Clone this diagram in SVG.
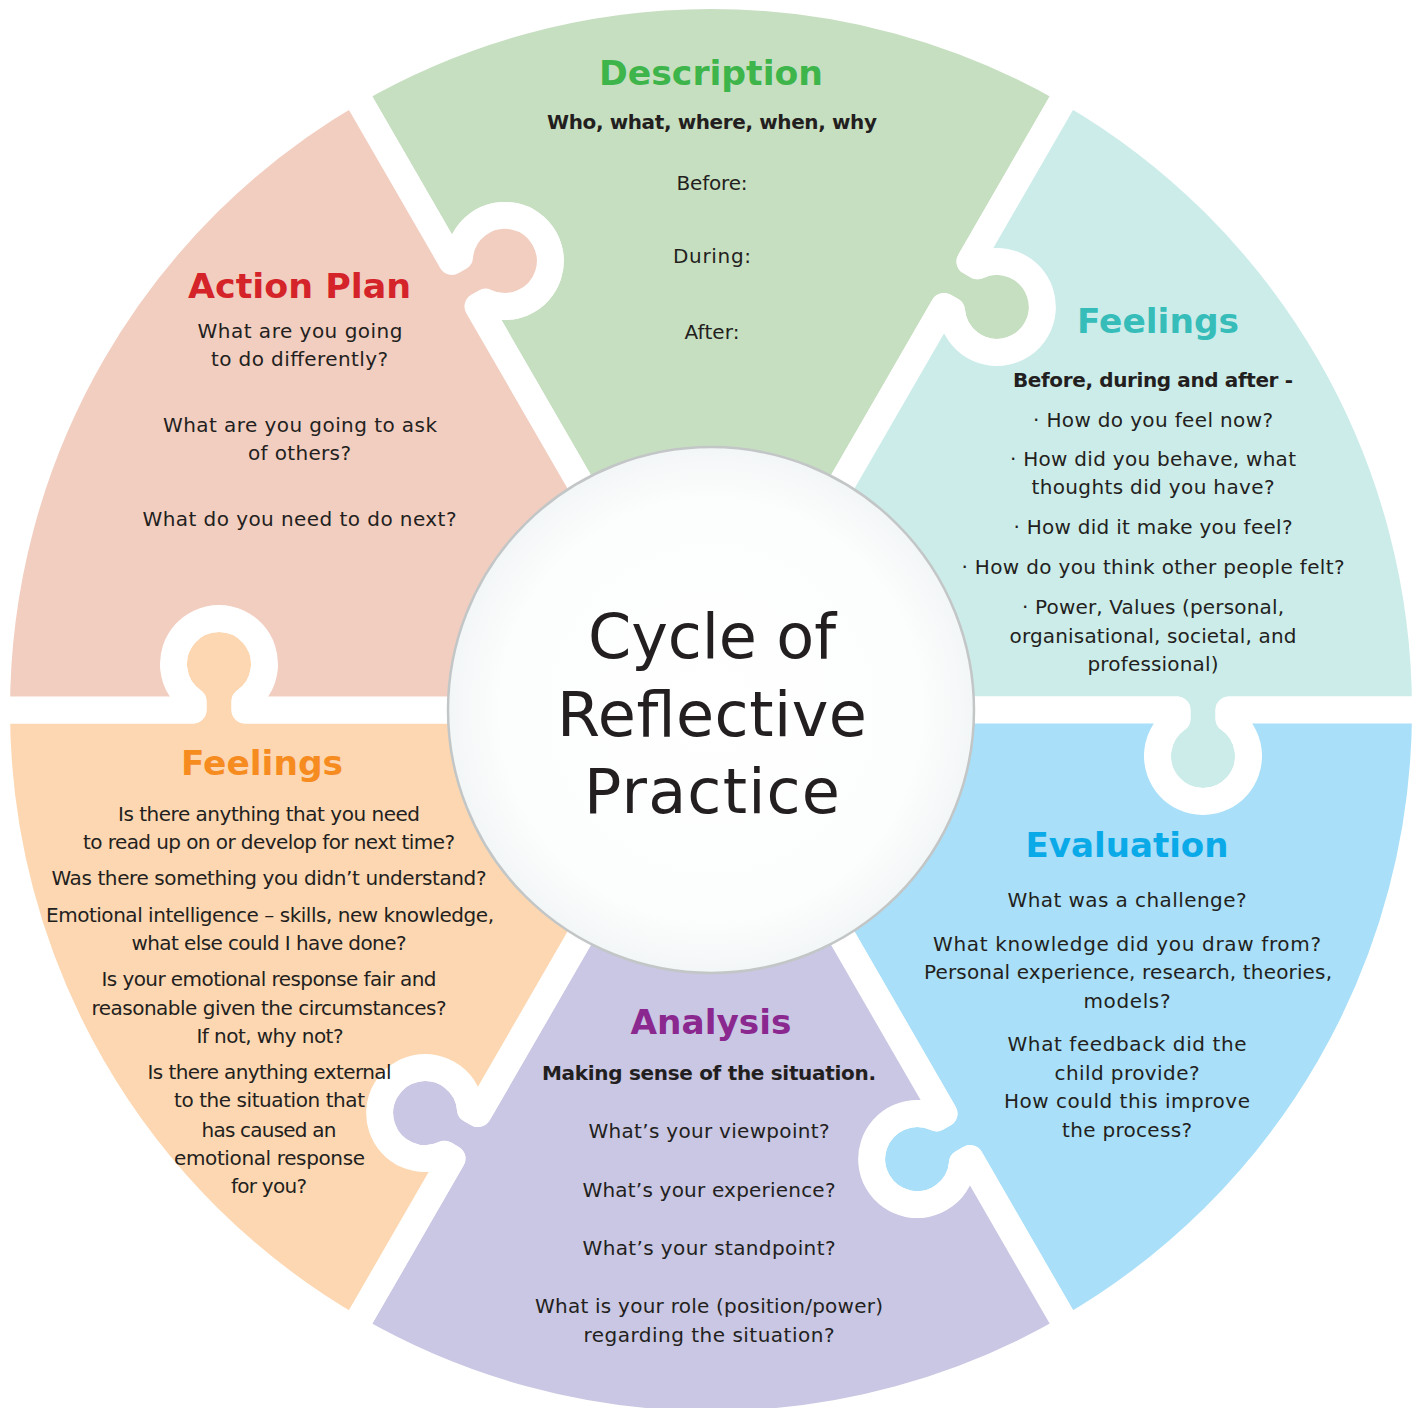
<svg xmlns="http://www.w3.org/2000/svg" width="1421" height="1408" viewBox="0 0 1421 1408">
  <defs>
    <style>
      .txt{font-family:"DejaVu Sans",sans-serif;font-size:20px;fill:#231f20;text-anchor:middle}
      .sub{font-family:"DejaVu Sans",sans-serif;font-size:20px;font-weight:bold;fill:#231f20;text-anchor:middle}
      .ttl{font-family:"DejaVu Sans",sans-serif;font-size:34px;font-weight:bold;text-anchor:middle}
      .hub{font-family:"DejaVu Sans",sans-serif;font-size:62px;fill:#231f20;text-anchor:middle}
      .piece{stroke:#ffffff;stroke-width:27;stroke-linejoin:round}
    </style>
    <!-- one 60° puzzle piece, centred on the origin: socket on the 0° edge, tab on the 60° edge.
         The white 27px stroke opens the gap between neighbouring pieces. -->
    <path id="piece" d="M0 0 L466 0 L466 8.66 A45.5 45.5 0 1 0 518 8.66 L518 0 L714.5 0 A714.5 714.5 0 0 1 357.25 618.78 L259 448.6 L251.5 452.93 A45.5 45.5 0 1 1 225.5 407.9 L233 403.57 Z"/>
    <radialGradient id="hubFill" cx="50%" cy="50%" r="50%">
      <stop offset="0" stop-color="#ffffff"/>
      <stop offset="0.8" stop-color="#fcfdfd"/>
      <stop offset="1" stop-color="#f3f6f7"/>
    </radialGradient>
  </defs>

  <rect width="1421" height="1408" fill="#ffffff"/>

  <g id="description">
    <use href="#piece" class="piece" fill="#c7dfc1" transform="translate(711 710) rotate(240)"/>
    <text class="ttl" x="711" y="85" fill="#3db54a" textLength="224" lengthAdjust="spacingAndGlyphs">Description</text>
    <text class="sub" x="712" y="129" textLength="330">Who, what, where, when, why</text>
    <text class="txt" x="712" y="190" textLength="71">Before:</text>
    <text class="txt" x="712" y="263" textLength="78">During:</text>
    <text class="txt" x="712" y="339" textLength="55">After:</text>
  </g>

  <g id="feelings-now">
    <use href="#piece" class="piece" fill="#ccecea" transform="translate(711 710) rotate(300)"/>
    <text class="ttl" x="1158" y="333" fill="#36bdb9" textLength="162" lengthAdjust="spacingAndGlyphs">Feelings</text>
    <text class="sub" x="1153" y="387" textLength="280">Before, during and after -</text>
    <text class="txt" x="1153" y="427" textLength="240">· How do you feel now?</text>
    <text class="txt" x="1153" y="466" textLength="286">· How did you behave, what</text>
    <text class="txt" x="1153" y="494" textLength="243">thoughts did you have?</text>
    <text class="txt" x="1153" y="534" textLength="279">· How did it make you feel?</text>
    <text class="txt" x="1153" y="574" textLength="383">· How do you think other people felt?</text>
    <text class="txt" x="1153" y="614" textLength="262">· Power, Values (personal,</text>
    <text class="txt" x="1153" y="643" textLength="287">organisational, societal, and</text>
    <text class="txt" x="1153" y="671" textLength="131">professional)</text>
  </g>

  <g id="evaluation">
    <use href="#piece" class="piece" fill="#a9dff8" transform="translate(711 710) rotate(0)"/>
    <text class="ttl" x="1127" y="857" fill="#0aa9e8" textLength="203" lengthAdjust="spacingAndGlyphs">Evaluation</text>
    <text class="txt" x="1127" y="907" textLength="239">What was a challenge?</text>
    <text class="txt" x="1127" y="951" textLength="388">What knowledge did you draw from?</text>
    <text class="txt" x="1128" y="979" textLength="408">Personal experience, research, theories,</text>
    <text class="txt" x="1127" y="1008" textLength="87">models?</text>
    <text class="txt" x="1127" y="1051" textLength="239">What feedback did the</text>
    <text class="txt" x="1127" y="1080" textLength="145">child provide?</text>
    <text class="txt" x="1127" y="1108" textLength="246">How could this improve</text>
    <text class="txt" x="1127" y="1137" textLength="130">the process?</text>
  </g>

  <g id="analysis">
    <use href="#piece" class="piece" fill="#c9c7e3" transform="translate(711 710) rotate(60)"/>
    <text class="ttl" x="711" y="1034" fill="#8a288f" textLength="161" lengthAdjust="spacingAndGlyphs">Analysis</text>
    <text class="sub" x="709" y="1080" textLength="334">Making sense of the situation.</text>
    <text class="txt" x="709" y="1138" textLength="241">What’s your viewpoint?</text>
    <text class="txt" x="709" y="1197" textLength="253">What’s your experience?</text>
    <text class="txt" x="709" y="1255" textLength="253">What’s your standpoint?</text>
    <text class="txt" x="709" y="1313" textLength="348">What is your role (position/power)</text>
    <text class="txt" x="709" y="1342" textLength="251">regarding the situation?</text>
  </g>

  <g id="feelings-learning">
    <use href="#piece" class="piece" fill="#fdd7b1" transform="translate(711 710) rotate(120)"/>
    <text class="ttl" x="262" y="775" fill="#f68b1f" textLength="162" lengthAdjust="spacingAndGlyphs">Feelings</text>
    <text class="txt" x="269" y="821" textLength="302">Is there anything that you need</text>
    <text class="txt" x="269" y="849" textLength="372">to read up on or develop for next time?</text>
    <text class="txt" x="269" y="885" textLength="435">Was there something you didn’t understand?</text>
    <text class="txt" x="270" y="922" textLength="448">Emotional intelligence – skills, new knowledge,</text>
    <text class="txt" x="269" y="950" textLength="275">what else could I have done?</text>
    <text class="txt" x="269" y="986" textLength="335">Is your emotional response fair and</text>
    <text class="txt" x="269" y="1015" textLength="355">reasonable given the circumstances?</text>
    <text class="txt" x="270" y="1043" textLength="147">If not, why not?</text>
    <text class="txt" x="269.5" y="1079" textLength="244">Is there anything external</text>
    <text class="txt" x="269.5" y="1107" textLength="191">to the situation that</text>
    <text class="txt" x="269" y="1137" textLength="135">has caused an</text>
    <text class="txt" x="269.5" y="1165" textLength="191">emotional response</text>
    <text class="txt" x="269" y="1193" textLength="76">for you?</text>
  </g>

  <g id="action-plan">
    <use href="#piece" class="piece" fill="#f2cec0" transform="translate(711 710) rotate(180)"/>
    <text class="ttl" x="299.5" y="298" fill="#d5232a" textLength="223" lengthAdjust="spacingAndGlyphs">Action Plan</text>
    <text class="txt" x="300" y="338" textLength="205">What are you going</text>
    <text class="txt" x="299.5" y="366" textLength="177">to do differently?</text>
    <text class="txt" x="300" y="432" textLength="274">What are you going to ask</text>
    <text class="txt" x="299.5" y="460" textLength="103">of others?</text>
    <text class="txt" x="299.5" y="526" textLength="314">What do you need to do next?</text>
  </g>

  <g id="hub">
    <circle cx="711" cy="710" r="263" fill="url(#hubFill)" stroke="#c3c6c6" stroke-width="2.5"/>
    <text class="hub" x="712" y="658" textLength="248">Cycle of</text>
    <text class="hub" x="712" y="736" textLength="310">Reflective</text>
    <text class="hub" x="712" y="813" textLength="256">Practice</text>
  </g>
</svg>
